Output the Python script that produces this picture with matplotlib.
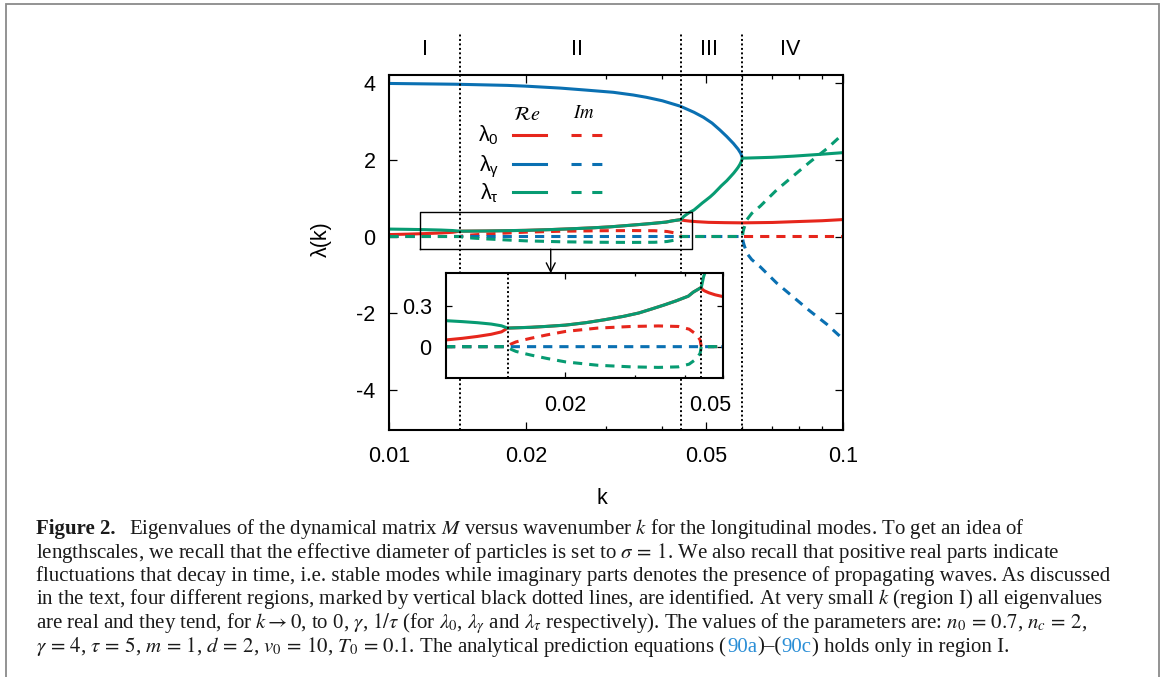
import matplotlib
matplotlib.use('Agg')
import numpy as np
import matplotlib.pyplot as plt
from matplotlib.lines import Line2D
from matplotlib.patches import Rectangle
from matplotlib.ticker import NullFormatter

plt.rcParams['font.family'] = ['Liberation Sans', 'DejaVu Sans']

W, H = 1165, 677

# ---- eigenvalue data ----
# lambda_0 (red)
k_re0 = [0.01, 0.011, 0.012, 0.013, 0.0138, 0.0143, 0.0164, 0.0178, 0.02, 0.0225, 0.0251,
         0.028, 0.0306, 0.033, 0.0355, 0.038, 0.0408, 0.042, 0.044, 0.0443, 0.0448, 0.046,
         0.0477, 0.0506, 0.055, 0.06, 0.07, 0.078, 0.09, 0.1]
re0 = [0.05, 0.062, 0.076, 0.092, 0.11, 0.138, 0.144, 0.15, 0.16, 0.178, 0.20,
       0.225, 0.25, 0.28, 0.31, 0.34, 0.375, 0.405, 0.44, 0.425, 0.415, 0.40,
       0.385, 0.368, 0.36, 0.355, 0.365, 0.385, 0.41, 0.44]
k_im0 = [0.01, 0.0143, 0.0146, 0.015, 0.0157, 0.0164, 0.018, 0.02, 0.0241, 0.0293, 0.0343,
         0.0385, 0.041, 0.0428, 0.0437, 0.044, 0.1]
im0 = [0, 0, 0.02, 0.035, 0.05, 0.063, 0.088, 0.113, 0.138, 0.15, 0.154,
       0.15, 0.13, 0.09, 0.05, 0, 0]

# lambda_gamma (blue)
k_regam = [0.01, 0.014, 0.0182, 0.02, 0.0238, 0.027, 0.0312, 0.0345, 0.0369, 0.04, 0.0438,
           0.047, 0.0493, 0.0515, 0.0536, 0.0555, 0.0574, 0.0588, 0.0596, 0.0601]
regam = [3.98, 3.96, 3.93, 3.91, 3.86, 3.81, 3.75, 3.68, 3.62, 3.53, 3.39,
         3.23, 3.10, 2.95, 2.77, 2.60, 2.42, 2.27, 2.16, 2.04]
k_imgam = [0.01, 0.0601, 0.0603, 0.0606, 0.061, 0.0614, 0.063, 0.0658, 0.0715, 0.0779,
           0.0845, 0.0922, 0.1]
imgam = [0, 0, -0.13, -0.22, -0.32, -0.43, -0.6, -0.79, -1.21, -1.58,
         -1.93, -2.28, -2.66]

# lambda_tau (green)
k_retau = [0.01, 0.011, 0.012, 0.013, 0.0138, 0.0143, 0.0164, 0.0178, 0.02, 0.0225, 0.0251,
           0.028, 0.0306, 0.033, 0.0355, 0.038, 0.0408, 0.042, 0.044, 0.0446, 0.0452, 0.046,
           0.047, 0.048, 0.049, 0.05, 0.051, 0.052, 0.053, 0.054, 0.0555, 0.0565, 0.0575,
           0.0583, 0.0588, 0.0593, 0.0597, 0.0601, 0.0614, 0.07, 0.078, 0.09, 0.1]
retau = [0.193, 0.186, 0.178, 0.168, 0.155, 0.138, 0.144, 0.15, 0.16, 0.178, 0.20,
         0.225, 0.25, 0.28, 0.31, 0.34, 0.375, 0.405, 0.44, 0.52, 0.57, 0.63,
         0.69, 0.78, 0.87, 0.95, 1.03, 1.12, 1.22, 1.32, 1.45, 1.55, 1.65,
         1.74, 1.80, 1.87, 1.94, 2.04, 2.04, 2.06, 2.09, 2.14, 2.18]
k_imtau = [0.01, 0.0143, 0.0146, 0.015, 0.0157, 0.0164, 0.018, 0.02, 0.0241, 0.0293, 0.0343,
           0.0385, 0.041, 0.0428, 0.0437, 0.044, 0.0601, 0.0603, 0.0606, 0.061, 0.0614,
           0.063, 0.0658, 0.0715, 0.0779, 0.0845, 0.0922, 0.1]
imtau = [0, 0, -0.02, -0.035, -0.05, -0.063, -0.088, -0.113, -0.138, -0.15, -0.154,
         -0.15, -0.13, -0.09, -0.05, 0, 0, 0.13, 0.22, 0.32, 0.43,
         0.6, 0.79, 1.21, 1.58, 1.93, 2.28, 2.66]

region_bounds = [0.0143, 0.044, 0.0601]
region_names = ['I', 'II', 'III', 'IV']
region_label_k = [0.012, 0.026, 0.0508, 0.0765]

x_major = [0.01, 0.02, 0.05, 0.1]
x_major_lbl = ['0.01', '0.02', '0.05', '0.1']
x_minor = [0.03, 0.04, 0.06, 0.07, 0.08, 0.09]
y_major = [-4, -2, 0, 2, 4]
y_major_lbl = ['-4', '-2', '0', '2', '4']

zoom_box = [0.0117, 0.0465, -0.33, 0.645]   # k_lo, k_hi, y_lo, y_hi

RED = '#e6261c'
BLUE = '#0a70b2'
GREEN = '#079b72'
LW = 2.2
DASH = (0, (3.0, 2.3))
DOT = (0, (1, 1.3))
FS = 15.5


def fx(px):
    return px / W


def fy(py):
    return 1 - py / H


def box(l, t, r, b):
    return [l / W, 1 - b / H, (r - l) / W, (b - t) / H]


def draw_curves(a):
    a.plot(k_re0, re0, color=RED, lw=LW)
    a.plot(k_regam, regam, color=BLUE, lw=LW)
    a.plot(k_im0, im0, color=RED, lw=LW, ls=DASH)
    a.plot(k_imgam, imgam, color=BLUE, lw=LW, ls=DASH)
    a.plot(k_retau, retau, color=GREEN, lw=LW)
    a.plot(k_imtau, imtau, color=GREEN, lw=LW, ls=DASH)


fig = plt.figure(figsize=(W / 100, H / 100), dpi=100)

# grey frame around the whole figure
fig.add_artist(Rectangle((fx(6), fy(700)), fx(1159) - fx(6), fy(4) - fy(700),
                         transform=fig.transFigure, fill=False, ec='#8a8a8a', lw=1.3))

# ---- main panel ----
ax = fig.add_axes(box(389.3, 75, 842.7, 430.3))
ax.set_xscale('log')
draw_curves(ax)
ax.set_xlim(0.01, 0.1)
ax.set_ylim(-5.04, 4.2)
ax.set_xticks(x_major, labels=x_major_lbl)
ax.set_xticks(x_minor, minor=True)
ax.xaxis.set_minor_formatter(NullFormatter())
ax.set_yticks(y_major, labels=y_major_lbl)
ax.tick_params(which='both', direction='in', top=True, right=True, width=0.9, labelsize=FS)
ax.tick_params(which='major', length=5.5)
ax.tick_params(which='minor', length=3)
ax.tick_params(axis='x', pad=11.3)
ax.tick_params(axis='y', pad=9.8)
for s in ax.spines.values():
    s.set_linewidth(1.5)

for kb in region_bounds:
    ax.plot([kb, kb], [0, 1.118], transform=ax.get_xaxis_transform(), clip_on=False,
            color='k', lw=1.4, ls=DOT, zorder=5)
for kl, name in zip(region_label_k, region_names):
    ax.text(kl, 1.0563, name, transform=ax.get_xaxis_transform(), ha='center',
            va='baseline', fontsize=FS)

# zoom rectangle and arrow
kl, kh, yl, yh = zoom_box
ax.plot([kl, kh, kh, kl, kl], [yl, yl, yh, yh, yl], color='k', lw=1.0, zorder=6)
ax.annotate('', xy=(0.0227, -0.957), xytext=(0.0227, yl),
            arrowprops=dict(arrowstyle='->', lw=1.0, color='k', shrinkA=0, shrinkB=0,
                            mutation_scale=16))

fig.text(fx(321.7), fy(239), 'λ(k)', rotation=90, ha='center', va='center', fontsize=FS)
fig.text(fx(602), fy(503.5), 'k', ha='center', va='baseline', fontsize=FS)

# ---- legend ----
leg_rows = [134.5, 163.8, 192.3]
leg_lbl = ['λ$_\\mathregular{0}$', 'λ$_\\mathregular{γ}$', 'λ$_\\mathregular{τ}$']
leg_col = [RED, BLUE, GREEN]
fig.text(fx(526.7), fy(119.5), r'$\mathcal{R}e$', ha='center', va='baseline',
         fontsize=14.5, math_fontfamily='stix')
fig.text(fx(584), fy(118.5), r'$Im$', ha='center', va='baseline',
         fontsize=13.5, math_fontfamily='stix')
for yrow, lbl, col in zip(leg_rows, leg_lbl, leg_col):
    fig.text(fx(499), fy(yrow + 7.2), lbl, ha='right', va='baseline', fontsize=FS)
    fig.add_artist(Line2D([fx(512.7), fx(546)], [fy(yrow), fy(yrow)], transform=fig.transFigure,
                          color=col, lw=LW))
    fig.add_artist(Line2D([fx(571), fx(602.3)], [fy(yrow), fy(yrow)], transform=fig.transFigure,
                          color=col, lw=LW, ls=(0, (3.3, 3.5))))

# ---- inset ----
axi = fig.add_axes(box(446, 273.3, 723.3, 378.3))
axi.set_xscale('log')
axi.set_facecolor('white')
draw_curves(axi)
axi.set_xlim(0.01, 0.05)
axi.set_ylim(-0.235, 0.545)
axi.set_xticks([0.02], labels=['0.02'])
axi.set_xticks([0.03, 0.04, 0.05], minor=True)
axi.xaxis.set_minor_formatter(NullFormatter())
axi.set_yticks([0, 0.3], labels=['0', '0.3'])
axi.tick_params(which='both', direction='in', top=True, right=True, width=0.9, labelsize=FS)
axi.tick_params(which='major', length=4)
axi.tick_params(which='minor', length=2.5)
axi.tick_params(axis='x', pad=12)
axi.tick_params(axis='y', pad=10.3)
for s in axi.spines.values():
    s.set_linewidth(1.5)
for kb in region_bounds[:2]:
    axi.plot([kb, kb], [0, 1], transform=axi.get_xaxis_transform(), color='k', lw=1.4,
             ls=DOT, zorder=5)
axi.annotate('0.05', xy=(0.05, 0), xycoords=('data', 'axes fraction'),
             xytext=(-9.5, -12), textcoords='offset points', ha='center', va='top', fontsize=FS)

# ---- caption ----
LINK = '#2a8ed6'
TEXTC = '#1a1a1a'
SERIF = 'Liberation Serif'
cap_x0 = 36.5
cap_base = [534, 557.7, 581, 604.3, 628.3, 651.7]
cap_right = [1023.3, 1060, 1112, 1102.7, 1120, 1050]
caption = [
    [('Figure 2.', {'weight': 'bold'}), 0.6,
     (r'Eigenvalues of the dynamical matrix $M$ versus wavenumber $k$ for the longitudinal '
      r'modes. To get an idea of', {})],
    [(r'lengthscales, we recall that the effective diameter of particles is set to '
      r'$\sigma\,=\,1$. We also recall that positive real parts indicate', {})],
    [('fluctuations that decay in time, i.e. stable modes while imaginary parts denotes the '
      'presence of propagating waves. As discussed', {})],
    [(r'in the text, four different regions, marked by vertical black dotted lines, are '
      r'identified. At very small $k$ (region I) all eigenvalues', {})],
    [(r'are real and they tend, for $k \rightarrow 0$, to 0, $\gamma$, $1/\tau$ (for '
      r'$\lambda_0$, $\lambda_\gamma$ and $\lambda_\tau$ respectively). The values of the '
      r'parameters are: $n_0\,=\,0.7$, $n_c\,=\,2$,', {})],
    [(r'$\gamma\,=\,4$, $\tau\,=\,5$, $m\,=\,1$, $d\,=\,2$, $v_0\,=\,10$, $T_0\,=\,0.1$. '
      r'The analytical prediction equations (', {}),
     ('90a', {'color': LINK}), (')–(', {}), ('90c', {'color': LINK}),
     (') holds only in region I.', {})],
]

renderer = fig.canvas.get_renderer()


def draw_caption_line(pieces, ybase, fs):
    x = cap_x0
    arts = []
    for p in pieces:
        if isinstance(p, float):
            x += p * fs * 100 / 72
            continue
        s, kw = p
        props = {'color': TEXTC}
        props.update(kw)
        t = fig.text(fx(x), fy(ybase), s, fontsize=fs, family=SERIF, math_fontfamily='stix',
                     ha='left', va='baseline', **props)
        x += t.get_window_extent(renderer).width
        arts.append(t)
    return arts, x - cap_x0


ratios = []
for pieces, yb, xr in zip(caption, cap_base, cap_right):
    arts, w = draw_caption_line(pieces, yb, 14)
    ratios.append((xr - cap_x0) / w)
    for t in arts:
        t.remove()
cap_fs = 14 * float(np.median(ratios))
for pieces, yb in zip(caption, cap_base):
    draw_caption_line(pieces, yb, cap_fs)

fig.savefig('out.png', dpi=100)
